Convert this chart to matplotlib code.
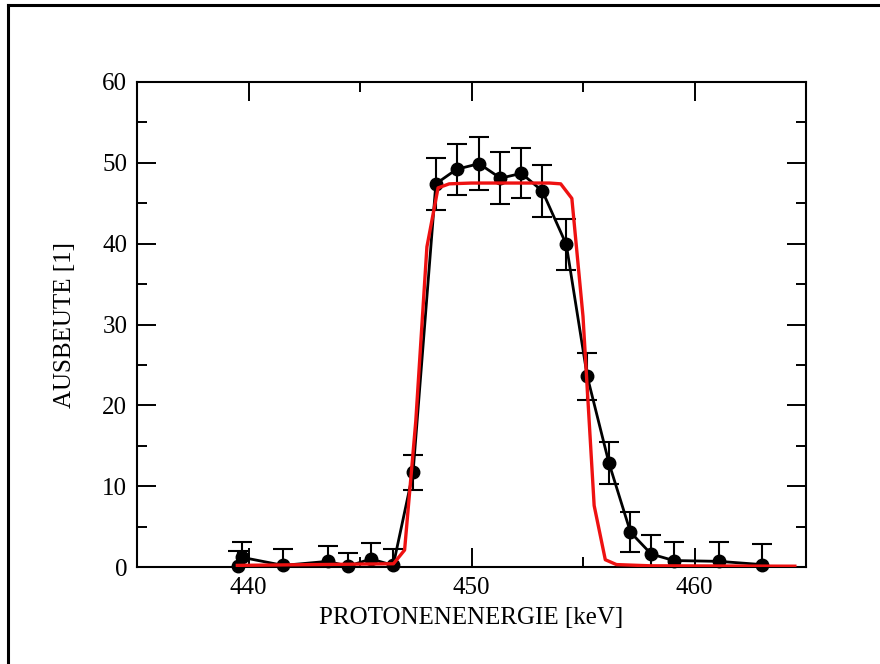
import matplotlib
matplotlib.use('Agg')
import matplotlib.pyplot as plt
from matplotlib.lines import Line2D
from matplotlib.ticker import MultipleLocator

# measured yield with errors
energy = [439.55, 439.70, 441.56, 443.55, 444.47, 445.49, 446.49, 447.38,
          448.40, 449.33, 450.34, 451.30, 452.24, 453.18, 454.25, 455.19,
          456.16, 457.13, 458.06, 459.07, 461.09, 463.03]
yield_meas = [0.1, 1.2, 0.2, 0.7, 0.1, 1.0, 0.2, 11.7,
              47.4, 49.2, 49.9, 48.1, 48.7, 46.5, 39.9, 23.6,
              12.9, 4.3, 1.6, 0.8, 0.7, 0.3]
yield_err = [1.9, 1.9, 2.0, 1.9, 1.6, 2.0, 2.0, 2.2,
             3.2, 3.15, 3.3, 3.25, 3.1, 3.2, 3.1, 2.9,
             2.6, 2.5, 2.4, 2.3, 2.4, 2.5]

# simulated curve
energy_fit = [439.5, 446.5, 447.0, 447.5, 448.0, 448.5, 449.0, 450.0,
              453.5, 454.0, 454.5, 455.0, 455.5, 456.0, 456.5, 458.0, 464.5]
yield_fit = [0.2, 0.4, 2.1, 18.0, 39.6, 46.9, 47.4, 47.5,
             47.5, 47.4, 45.6, 31.0, 7.6, 0.9, 0.3, 0.15, 0.1]

plt.rcParams['font.family'] = 'Liberation Serif'
plt.rcParams['font.size'] = 18

fig = plt.figure(figsize=(8.8, 6.64), dpi=100)
ax = fig.add_axes([137/880, 97/664, 669/880, 485/664])

ax.errorbar(energy, yield_meas, yerr=yield_err, fmt='none', ecolor='black',
            elinewidth=1.5, capsize=7, capthick=1.5, zorder=2)
ax.plot(energy, yield_meas, color='black', lw=2.0, marker='o', ms=9,
        clip_on=False, zorder=3)
ax.plot(energy_fit, yield_fit, color='#ee1111', lw=2.4, zorder=4)

ax.set_xlim(435, 465)
ax.set_ylim(0, 60)
ax.xaxis.set_major_locator(MultipleLocator(10))
ax.xaxis.set_minor_locator(MultipleLocator(5))
ax.yaxis.set_major_locator(MultipleLocator(10))
ax.yaxis.set_minor_locator(MultipleLocator(5))
ax.tick_params(which='both', direction='in', top=True, right=True, width=1.4, pad=7)
ax.tick_params(which='major', length=14)
ax.tick_params(which='minor', length=7)
for s in ax.spines.values():
    s.set_linewidth(1.5)

ax.set_xlabel('PROTONENENERGIE [keV]')
ax.set_ylabel('AUSBEUTE [1]')
ax.xaxis.set_label_coords(0.5, -0.083)
ax.yaxis.set_label_coords(-0.091, 0.5)

# frame lines at top and left of the picture
fig.add_artist(Line2D([8/880, 1], [1 - 5/664, 1 - 5/664], color='black', lw=2.2))
fig.add_artist(Line2D([8/880, 8/880], [0, 1 - 5/664], color='black', lw=2.2))

fig.savefig('out.png', dpi=100)
